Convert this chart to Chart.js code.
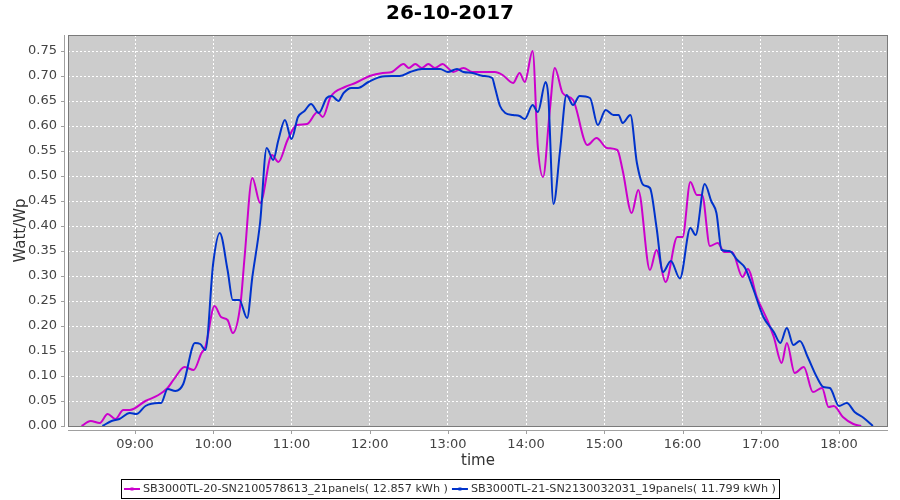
<!DOCTYPE html>
<html>
<head>
<meta charset="utf-8">
<script src="https://cdn.jsdelivr.net/npm/chart.js@4.4.0/dist/chart.umd.min.js"></script>
<style>
  html, body { margin: 0; padding: 0; background: #fff; }
  #wrap { width: 900px; height: 500px; }
</style>
</head>
<body>
<div id="wrap"><canvas id="chart" width="900" height="500"></canvas></div>
<script>
// series 1: SB3000TL-20 (magenta)
const times20 = ['08:19','08:26','08:33','08:39','08:45','08:51','08:56','09:08','09:18','09:25','09:30','09:38','09:45','09:51','09:54',
  '10:01','10:06','10:11','10:15','10:21','10:24','10:30','10:36','10:45','10:50','10:57','11:04','11:12','11:20','11:24','11:30',
  '11:41','11:49','12:00','12:10','12:17','12:26','12:30','12:35','12:40','12:45','12:50','12:56','13:00','13:04','13:12','13:19',
  '13:29','13:36','13:42','13:50','13:55','13:59','14:05','14:09','14:13','14:18','14:22','14:28','14:36','14:47','14:54','15:02',
  '15:10','15:14','15:21','15:26','15:35','15:40','15:47','15:56','16:00','16:06','16:11','16:15','16:21','16:27','16:32','16:38',
  '16:46','16:50','16:57','17:05','17:10','17:16','17:20','17:26','17:33','17:40','17:47','17:52','17:56','18:03','18:11','18:17'];
const watt20 = [0.000,0.010,0.006,0.024,0.014,0.032,0.032,0.050,0.062,0.076,0.094,0.118,0.112,0.146,0.158,
  0.240,0.218,0.212,0.186,0.246,0.336,0.496,0.446,0.542,0.528,0.572,0.602,0.604,0.628,0.618,0.658,
  0.678,0.686,0.700,0.706,0.708,0.724,0.716,0.724,0.716,0.724,0.716,0.724,0.716,0.708,0.716,0.708,
  0.708,0.708,0.702,0.686,0.706,0.688,0.750,0.558,0.498,0.626,0.716,0.666,0.652,0.562,0.576,0.556,
  0.552,0.512,0.426,0.472,0.312,0.352,0.288,0.378,0.378,0.488,0.462,0.462,0.360,0.366,0.348,0.348,
  0.298,0.314,0.258,0.212,0.178,0.126,0.166,0.106,0.118,0.068,0.076,0.038,0.040,0.018,0.004,0.000];

// series 2: SB3000TL-21 (blue)
const times21 = ['08:35','08:42','08:48','08:56','09:01','09:08','09:18','09:20','09:25','09:31','09:37','09:46','09:50','09:54',
  '10:00','10:05','10:11','10:15','10:20','10:26','10:30','10:36','10:41','10:46','10:50','10:55','11:00','11:05','11:10','11:15',
  '11:21','11:27','11:31','11:36','11:40','11:46','11:51','11:59','12:08','12:17','12:23','12:31','12:40','12:54','13:00','13:07',
  '13:12','13:19','13:27','13:34','13:36','13:40','13:44','13:50','13:55','13:59','14:05','14:09','14:15','14:17','14:21','14:26',
  '14:31','14:36','14:41','14:49','14:55','15:01','15:07','15:11','15:14','15:20','15:25','15:30','15:35','15:40','15:45','15:51',
  '15:58','16:06','16:10','16:17','16:22','16:26','16:30','16:36','16:42','16:48','16:54','17:02','17:10','17:15','17:20','17:25',
  '17:30','17:36','17:43','17:48','17:53','18:00','18:06','18:12','18:19','18:26'];
const watt21 = [0.000,0.010,0.014,0.026,0.024,0.040,0.046,0.046,0.074,0.070,0.084,0.166,0.164,0.152,
  0.326,0.386,0.312,0.252,0.252,0.216,0.298,0.408,0.556,0.532,0.572,0.612,0.574,0.618,0.630,0.644,
  0.626,0.656,0.660,0.650,0.666,0.676,0.676,0.688,0.698,0.700,0.700,0.708,0.714,0.714,0.708,0.714,
  0.708,0.706,0.700,0.696,0.678,0.640,0.626,0.622,0.620,0.614,0.642,0.628,0.688,0.660,0.444,0.550,
  0.662,0.642,0.660,0.656,0.602,0.632,0.622,0.622,0.606,0.622,0.526,0.482,0.476,0.398,0.308,0.330,
  0.295,0.396,0.382,0.484,0.450,0.426,0.352,0.350,0.332,0.316,0.276,0.218,0.188,0.166,0.196,0.162,
  0.170,0.138,0.098,0.078,0.076,0.040,0.046,0.028,0.016,0.000];

const hourTicks = ['09:00','10:00','11:00','12:00','13:00','14:00','15:00','16:00','17:00','18:00'];
const labels = ['SB3000TL-20-SN2100578613_21panels( 12.857 kWh )', 'SB3000TL-21-SN2130032031_19panels( 11.799 kWh )'];
const chartTitle = '26-10-2017';

function toMin(t) {
    var p = t.split(':');
    return parseInt(p[0], 10) * 60 + parseInt(p[1], 10);
}
function pad2(n) { return (n < 10 ? '0' : '') + n; }
function toPoints(times, vals) {
    return times.map(function(t, i) { return { x: toMin(t), y: vals[i] }; });
}

const FONT = "'DejaVu Sans', sans-serif";

// gray plot background, outline, detached axis lines, centred title and boxed legend
const plotFrame = {
    id: 'plotFrame',
    beforeDraw: function(chart) {
        const a = chart.chartArea, ctx = chart.ctx;
        ctx.save();
        ctx.fillStyle = '#cccccc';
        ctx.fillRect(a.left, a.top, a.right - a.left, a.bottom - a.top);
        ctx.restore();
    },
    afterDraw: function(chart) {
        const a = chart.chartArea, ctx = chart.ctx;
        const xs = chart.scales.x, ys = chart.scales.y;
        ctx.save();
        ctx.strokeStyle = '#7a7a7a';
        ctx.lineWidth = 1;
        ctx.strokeRect(a.left + 0.5, a.top + 0.5, a.right - a.left - 1, a.bottom - a.top);

        // y axis line + ticks
        ctx.strokeStyle = '#a0a0a0';
        ctx.beginPath();
        ctx.moveTo(a.left - 3.5, a.top);
        ctx.lineTo(a.left - 3.5, a.bottom + 1);
        ys.ticks.forEach(function(t) {
            const y = Math.round(ys.getPixelForValue(t.value)) + 0.5;
            ctx.moveTo(a.left - 7, y);
            ctx.lineTo(a.left - 3.5, y);
        });
        // x axis line + ticks
        ctx.moveTo(a.left, a.bottom + 4.5);
        ctx.lineTo(a.right, a.bottom + 4.5);
        xs.ticks.forEach(function(t) {
            const x = Math.round(xs.getPixelForValue(t.value)) + 0.5;
            ctx.moveTo(x, a.bottom + 4.5);
            ctx.lineTo(x, a.bottom + 8);
        });
        ctx.stroke();

        // title, centred on the whole canvas
        ctx.fillStyle = '#000';
        ctx.font = 'bold 20px ' + FONT;
        ctx.textAlign = 'center';
        ctx.textBaseline = 'middle';
        ctx.fillText(chartTitle, chart.width / 2, 14);

        // legend
        ctx.font = '11.2px ' + FONT;
        ctx.textAlign = 'left';
        const sets = chart.data.datasets;
        const widths = sets.map(function(d) { return ctx.measureText(d.label).width; });
        let total = 3;
        widths.forEach(function(w, i) { total += 16 + 3 + w + (i < widths.length - 1 ? 4 : 3); });
        let x = Math.round(chart.width / 2 - total / 2);
        const top = 479, h = 19, cy = top + h / 2 + 0.5;
        ctx.strokeStyle = '#000';
        ctx.lineWidth = 1;
        ctx.strokeRect(x + 0.5, top + 0.5, Math.round(total), h);
        x += 3;
        sets.forEach(function(d, i) {
            ctx.strokeStyle = d.borderColor;
            ctx.lineWidth = 2;
            ctx.beginPath();
            ctx.moveTo(x, cy);
            ctx.lineTo(x + 16, cy);
            ctx.stroke();
            ctx.fillStyle = d.borderColor;
            ctx.fillRect(x + 6.5, cy - 1.5, 3, 3);
            x += 19;
            ctx.fillStyle = '#333';
            ctx.fillText(d.label, x, cy);
            x += widths[i] + 4;
        });
        ctx.restore();
    }
};

const ctx = document.getElementById('chart').getContext('2d');
new Chart(ctx, {
    type: 'line',
    data: {
        datasets: [{
            label: labels[0],
            data: toPoints(times20, watt20),
            borderColor: '#cc00cc',
            backgroundColor: '#cc00cc',
            borderWidth: 2,
            pointRadius: 0,
            cubicInterpolationMode: 'monotone',
            order: 1
        }, {
            label: labels[1],
            data: toPoints(times21, watt21),
            borderColor: '#0033cc',
            backgroundColor: '#0033cc',
            borderWidth: 2,
            pointRadius: 0,
            cubicInterpolationMode: 'monotone',
            order: 0
        }]
    },
    options: {
        responsive: false,
        animation: false,
        layout: { padding: { left: 0, right: 12, top: 35, bottom: 30 } },
        plugins: {
            title: { display: false },
            legend: { display: false },
            tooltip: { enabled: false }
        },
        scales: {
            x: {
                type: 'linear',
                min: 488.6,
                max: 1117.6,
                afterBuildTicks: function(s) {
                    s.ticks = hourTicks.map(function(h) { return { value: toMin(h) }; });
                },
                afterFit: function(s) { s.height = 44; },
                ticks: {
                    font: { family: FONT, size: 13 },
                    color: '#444',
                    padding: 11,
                    maxRotation: 0,
                    autoSkip: false,
                    callback: function(v) { return pad2(Math.floor(v / 60)) + ':' + pad2(v % 60); }
                },
                grid: { color: '#ffffff', lineWidth: 1, drawTicks: false },
                border: { display: false, dash: [2, 2] },
                title: {
                    display: true,
                    text: 'time',
                    color: '#333',
                    font: { family: FONT, size: 15 },
                    padding: { top: 0, bottom: 0 }
                }
            },
            y: {
                min: 0,
                max: 0.782,
                afterBuildTicks: function(s) {
                    s.ticks = s.ticks.filter(function(t) { return t.value <= 0.751; });
                },
                afterFit: function(s) { s.width = 68; },
                ticks: {
                    stepSize: 0.05,
                    font: { family: FONT, size: 13 },
                    color: '#444',
                    padding: 11,
                    callback: function(v) { return v.toFixed(2); }
                },
                grid: { color: '#ffffff', lineWidth: 1, drawTicks: false },
                border: { display: false, dash: [2, 2] },
                title: {
                    display: true,
                    text: 'Watt/Wp',
                    color: '#333',
                    font: { family: FONT, size: 15 },
                    padding: { top: 12, bottom: 0 }
                }
            }
        }
    },
    plugins: [plotFrame]
});
</script>
</body>
</html>
